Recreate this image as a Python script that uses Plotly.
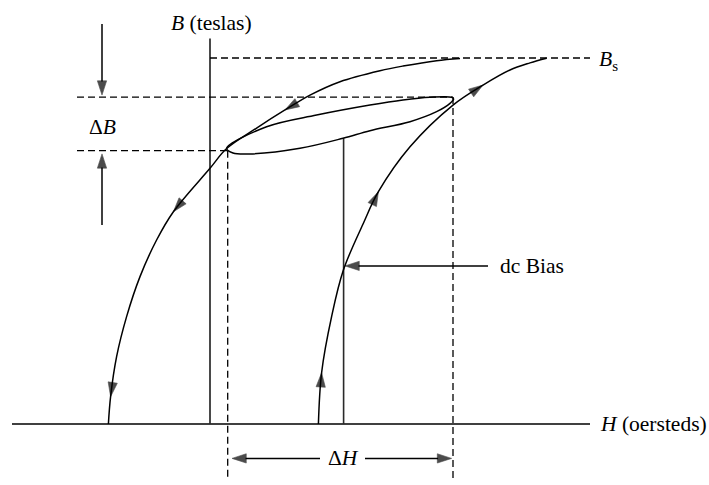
import plotly.graph_objects as go

# --- B-H data (H in oersteds, B in teslas) ---
# Major loop, descending branch: from saturation down to negative H
h_down = [12.5, 11.33, 9.65, 8.5, 6.5, 5.0, 3.75, 2.33, 0.83, 0.0, -1.83,
          -2.67, -3.5, -4.17, -4.67, -4.97, -5.08]
b_down = [1.498, 1.489, 1.467, 1.448, 1.403, 1.348, 1.287, 1.213, 1.129, 1.048,
          0.870, 0.754, 0.604, 0.440, 0.276, 0.112, 0.0]
down_arrows = [6, 10, 15]

# Major loop, ascending branch: from positive H up to saturation
h_up = [5.42, 5.58, 6.08, 6.67, 7.67, 8.42, 10.0, 12.15, 13.65, 15.0, 16.0,
        16.83]
b_up = [0.0, 0.210, 0.440, 0.631, 0.823, 0.952, 1.136, 1.307, 1.389, 1.451,
        1.480, 1.499]
up_arrows = [1, 5, 8]

# Minor loop around the dc bias point
h_loop = [0.835, 2.83, 5.33, 8.0, 9.65, 11.0, 12.08, 12.18, 12.0, 11.33, 10.0,
          8.0, 6.65, 4.5, 2.0, 1.15, 0.835]
b_loop = [1.130, 1.218, 1.266, 1.307, 1.328, 1.339, 1.339, 1.332, 1.314, 1.280,
          1.239, 1.202, 1.171, 1.130, 1.107, 1.111, 1.130]

# Reference levels
B_SAT = 1.5
DB_HI, DB_LO = 1.34, 1.12
H_LO, H_HI = 0.885, 12.15
H_BIAS = 6.68
B_BIAS_TOP = 1.171
H_AXIS_SPAN = [-9.9, 19.0]
B_AXIS_TOP = 1.58
GUIDE_BOTTOM = -0.23
DB_ARROW_H = -5.4
DH_ARROW_B = -0.141
BIAS_ARROW_B = 0.648

FONT = "Liberation Serif"
INK = "#000000"
AXIS_INK = "#2a2a2a"
DASH = "7px,4px"
HEAD = 15
CURVE_W = 1.5

fig = go.Figure()


def add_line(xs, ys, color=INK, width=CURVE_W, dash=None):
    fig.add_trace(go.Scatter(
        x=xs, y=ys, mode="lines",
        line=dict(color=color, width=width, dash=dash),
        hoverinfo="skip"))


def add_curve(xs, ys, arrow_idx=()):
    sizes = [HEAD if i in arrow_idx else 0 for i in range(len(xs))]
    fig.add_trace(go.Scatter(
        x=xs, y=ys, mode="lines+markers" if arrow_idx else "lines",
        line=dict(color=INK, width=CURVE_W, shape="spline", smoothing=1.0,
                  backoff=0),
        marker=dict(symbol="arrow", size=sizes, angleref="previous",
                    color=INK, line=dict(width=0.6, color=INK)),
        hoverinfo="skip"))


def add_arrow(x0, y0, x1, y1):
    fig.add_trace(go.Scatter(
        x=[x0, x1], y=[y0, y1], mode="lines+markers",
        line=dict(color=INK, width=CURVE_W),
        marker=dict(symbol="arrow", size=[0, HEAD], angleref="previous",
                    color=INK, line=dict(width=0.6, color=INK)),
        hoverinfo="skip"))


# Axes
add_line(H_AXIS_SPAN, [0, 0], color=INK, width=1.7)
add_line([0, 0], [0, B_AXIS_TOP], color=AXIS_INK, width=1.7)

# Dashed guide lines
add_line([0, H_AXIS_SPAN[1]], [B_SAT, B_SAT], dash=DASH, width=1.3)
add_line([-6.65, H_HI], [DB_HI, DB_HI], dash=DASH, width=1.3)
add_line([-6.65, H_LO], [DB_LO, DB_LO], dash=DASH, width=1.3)
add_line([H_LO, H_LO], [DB_LO, GUIDE_BOTTOM], dash=DASH, width=1.3)
add_line([H_HI, H_HI], [DB_HI, GUIDE_BOTTOM], dash=DASH, width=1.3)

# dc bias operating line
add_line([H_BIAS, H_BIAS], [0, B_BIAS_TOP], color=AXIS_INK, width=1.6)

# Hysteresis curves
add_curve(h_down, b_down, down_arrows)
add_curve(h_up, b_up, up_arrows)
add_curve(h_loop, b_loop)

# Dimension arrows
add_arrow(DB_ARROW_H, 1.639, DB_ARROW_H, 1.348)
add_arrow(DB_ARROW_H, 0.816, DB_ARROW_H, 1.107)
add_arrow(5.5, DH_ARROW_B, 1.1, DH_ARROW_B)
add_arrow(7.75, DH_ARROW_B, 12.08, DH_ARROW_B)
add_arrow(13.9, BIAS_ARROW_B, 6.75, BIAS_ARROW_B)

labels = [
    dict(x=0.05, y=1.643, text="<i>B</i> (teslas)", xanchor="center"),
    dict(x=19.35, y=1.49, text="<i>B</i><sub>s</sub>", xanchor="left"),
    dict(x=-5.4, y=1.217, text="Δ<i>B</i>", xanchor="center"),
    dict(x=6.68, y=DH_ARROW_B, text="Δ<i>H</i>", xanchor="center"),
    dict(x=14.4, y=BIAS_ARROW_B, text="dc Bias", xanchor="left"),
    dict(x=19.4, y=0.0, text="<i>H</i> (oersteds)", xanchor="left"),
]
for lab in labels:
    fig.add_annotation(xref="x", yref="y", showarrow=False, yanchor="middle",
                       font=dict(family=FONT, size=21.5, color=INK), **lab)

fig.update_layout(
    width=709, height=485,
    margin=dict(l=0, r=0, t=0, b=0),
    paper_bgcolor="white", plot_bgcolor="white",
    showlegend=False,
    xaxis=dict(range=[-10.5, 24.95], visible=False, fixedrange=True),
    yaxis=dict(range=[-0.25, 1.7377], visible=False, fixedrange=True),
)

fig.write_html("out.html")
